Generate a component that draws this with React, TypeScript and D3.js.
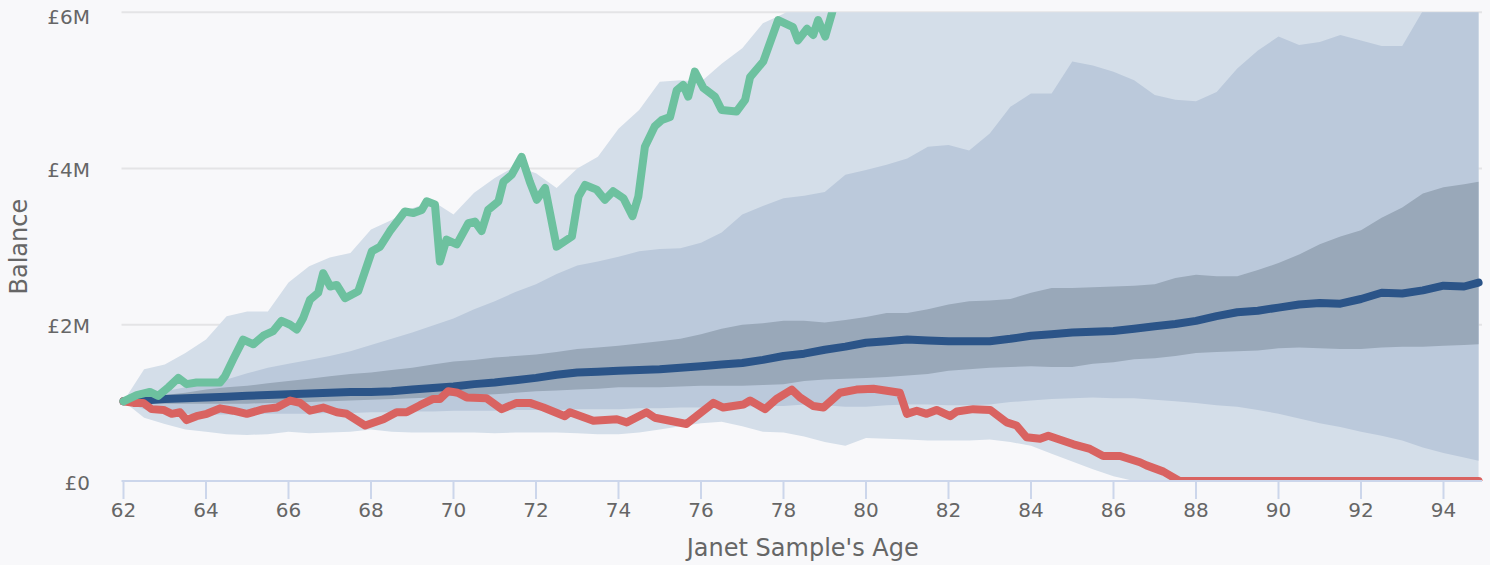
import { useEffect, useRef } from "react";
import * as d3 from "d3";

// ages for the percentile bands (years)
const ages = [
  62, 62.5, 63, 63.5, 64, 64.5, 65, 65.5, 66, 66.5, 67, 67.5, 68, 68.5, 69, 69.5,
  70, 70.5, 71, 71.5, 72, 72.5, 73, 73.5, 74, 74.5, 75, 75.5, 76, 76.5, 77, 77.5,
  78, 78.5, 79, 79.5, 80, 80.5, 81, 81.5, 82, 82.5, 83, 83.5, 84, 84.5, 85, 85.5,
  86, 86.5, 87, 87.5, 88, 88.5, 89, 89.5, 90, 90.5, 91, 91.5, 92, 92.5, 93, 93.5,
  94, 94.5, 94.85,
];

// balances in £M
const outerHigh = [
  1.02, 1.43, 1.49, 1.64, 1.81, 2.11, 2.17, 2.17, 2.54, 2.75, 2.86, 2.92, 3.22, 3.34, 3.49, 3.58,
  3.41, 3.69, 3.88, 4.03, 3.94, 3.75, 4.0, 4.15, 4.51, 4.75, 5.11, 5.13, 5.11, 5.34, 5.54, 5.86,
  5.98, 6.15, 6.3, 6.45, 6.6, 6.75, 6.9, 7.0, 7.1, 7.2, 7.35, 7.5, 7.7, 7.9, 8.1, 8.2,
  8.3, 8.4, 8.5, 8.6, 8.7, 8.8, 9.0, 9.2, 9.4, 9.5, 9.6, 9.7, 9.8, 9.9, 10.0, 10.2,
  10.4, 10.5, 10.6,
];
const outerLow = [
  1.02, 0.81, 0.73, 0.66, 0.63, 0.6, 0.59, 0.6, 0.63, 0.61, 0.62, 0.63, 0.66, 0.63, 0.62, 0.62,
  0.62, 0.62, 0.61, 0.62, 0.62, 0.62, 0.61, 0.6, 0.6, 0.62, 0.66, 0.7, 0.74, 0.76, 0.7, 0.63,
  0.62, 0.57, 0.5, 0.45, 0.55, 0.54, 0.53, 0.52, 0.52, 0.52, 0.53, 0.5, 0.45, 0.35, 0.25, 0.15,
  0.06, 0, 0, 0, 0, 0, 0, 0, 0, 0, 0, 0, 0, 0, 0, 0,
  0, 0, 0,
];
const middleHigh = [
  1.02, 1.11, 1.15, 1.2, 1.24, 1.3, 1.38, 1.45, 1.5, 1.55, 1.6, 1.66, 1.74, 1.82, 1.9, 1.99,
  2.08, 2.2, 2.3, 2.42, 2.52, 2.65, 2.76, 2.81, 2.87, 2.94, 2.97, 2.98, 3.05, 3.18, 3.41, 3.52,
  3.62, 3.65, 3.7, 3.92, 3.98, 4.05, 4.13, 4.28, 4.3, 4.23, 4.45, 4.79, 4.96, 4.96, 5.37, 5.32,
  5.24, 5.13, 4.94, 4.88, 4.86, 4.98, 5.28, 5.51, 5.69, 5.58, 5.62, 5.71, 5.64, 5.57, 5.57, 6.02,
  6.3, 6.5, 6.6,
];
const middleLow = [
  1.02, 0.92, 0.88, 0.86, 0.85, 0.85, 0.85, 0.86, 0.86, 0.86, 0.87, 0.87, 0.88, 0.88, 0.89, 0.89,
  0.9, 0.9, 0.9, 0.91, 0.91, 0.91, 0.92, 0.92, 0.92, 0.93, 0.93, 0.94, 0.94, 0.95, 0.95, 0.96,
  0.96, 0.98, 0.97, 0.95, 0.95, 0.97, 0.98, 0.98, 0.97, 0.97, 0.98, 1.01, 1.03, 1.05, 1.06, 1.07,
  1.06, 1.06, 1.04, 1.02, 1.0, 0.97, 0.95, 0.91, 0.86, 0.8, 0.74, 0.69, 0.63, 0.58, 0.52, 0.43,
  0.36, 0.3, 0.26,
];
const innerHigh = [
  1.02, 1.06, 1.1, 1.13, 1.17, 1.2, 1.22, 1.25, 1.28, 1.31, 1.34, 1.37, 1.39, 1.42, 1.45, 1.49,
  1.53, 1.55, 1.58, 1.6, 1.62, 1.65, 1.69, 1.71, 1.73, 1.76, 1.79, 1.82, 1.88, 1.95, 2.0, 2.02,
  2.05, 2.05, 2.03, 2.06, 2.1, 2.15, 2.15, 2.2, 2.26, 2.3, 2.31, 2.33, 2.41, 2.47, 2.47, 2.48,
  2.49, 2.5, 2.52, 2.6, 2.64, 2.62, 2.62, 2.7, 2.79, 2.9, 3.03, 3.13, 3.21, 3.37, 3.5, 3.68,
  3.76, 3.8, 3.83,
];
const innerLow = [
  1.02, 1.0, 0.99, 0.99, 0.99, 0.99, 0.99, 1.0, 1.0, 1.01, 1.02, 1.03, 1.04, 1.05, 1.06, 1.07,
  1.09, 1.1, 1.11, 1.13, 1.15, 1.16, 1.17, 1.18, 1.2, 1.2, 1.2, 1.21, 1.22, 1.22, 1.22, 1.23,
  1.24, 1.28, 1.3, 1.31, 1.32, 1.33, 1.35, 1.37, 1.41, 1.43, 1.45, 1.46, 1.47, 1.46, 1.46, 1.5,
  1.52, 1.56, 1.57, 1.6, 1.64, 1.65, 1.66, 1.67, 1.7, 1.71, 1.7, 1.69, 1.69, 1.71, 1.72, 1.72,
  1.73, 1.74, 1.75,
];
const median = [
  1.02, 1.03, 1.05, 1.06, 1.07, 1.08, 1.09, 1.1, 1.11, 1.12, 1.13, 1.14, 1.14, 1.15, 1.17, 1.19,
  1.21, 1.24, 1.26, 1.29, 1.32, 1.36, 1.39, 1.4, 1.41, 1.42, 1.43, 1.45, 1.47, 1.49, 1.51, 1.55,
  1.6, 1.63, 1.68, 1.72, 1.77, 1.79, 1.81, 1.8, 1.79, 1.79, 1.79, 1.82, 1.86, 1.88, 1.9, 1.91,
  1.92, 1.95, 1.98, 2.01, 2.05, 2.11, 2.16, 2.18, 2.22, 2.26, 2.28, 2.27, 2.33, 2.41, 2.4, 2.44,
  2.5, 2.49, 2.54,
];

// good-markets scenario
const goodAges = [
  62, 62.32, 62.64, 62.84, 63.09, 63.33, 63.53, 63.77, 64.02, 64.34, 64.46, 64.66, 64.9, 65.15,
  65.39, 65.63, 65.83, 66.04, 66.2, 66.36, 66.52, 66.72, 66.84, 67.01, 67.17, 67.37, 67.69,
  68.02, 68.22, 68.46, 68.82, 69.03, 69.23, 69.35, 69.55, 69.67, 69.83, 70.08, 70.36, 70.52,
  70.68, 70.84, 71.09, 71.21, 71.41, 71.65, 71.85, 72.02, 72.22, 72.34, 72.5, 72.87, 73.03,
  73.19, 73.47, 73.67, 73.87, 74.12, 74.34, 74.48, 74.64, 74.88, 75.05, 75.25, 75.41, 75.57,
  75.69, 75.85, 76.06, 76.34, 76.5, 76.86, 77.07, 77.19, 77.51, 77.87, 78.23, 78.35, 78.57,
  78.72, 78.84, 79.01, 79.18, 79.37,
];
const goodValues = [
  1.02, 1.1, 1.14, 1.09, 1.2, 1.32, 1.24, 1.26, 1.26, 1.26, 1.34, 1.56, 1.81, 1.75,
  1.86, 1.92, 2.05, 2.0, 1.94, 2.09, 2.32, 2.41, 2.66, 2.49, 2.51, 2.34, 2.43,
  2.94, 3.0, 3.2, 3.45, 3.43, 3.47, 3.58, 3.54, 2.81, 3.09, 3.03, 3.3, 3.32,
  3.2, 3.47, 3.58, 3.83, 3.92, 4.15, 3.83, 3.6, 3.75, 3.43, 3.0, 3.13, 3.64,
  3.79, 3.73, 3.6, 3.71, 3.62, 3.39, 3.64, 4.28, 4.54, 4.62, 4.66, 5.0, 5.07,
  4.92, 5.24, 5.03, 4.92, 4.75, 4.73, 4.88, 5.17, 5.37, 5.9, 5.81, 5.64, 5.79,
  5.71, 5.9, 5.69, 6.0, 6.4,
];

// poor-markets scenario
const poorAges = [
  62, 62.24, 62.48, 62.68, 62.97, 63.17, 63.37, 63.53, 63.77, 64.02, 64.34, 64.66, 64.99,
  65.39, 65.72, 66.04, 66.28, 66.52, 66.84, 67.17, 67.41, 67.86, 68.3, 68.62, 68.86, 69.19,
  69.51, 69.67, 69.87, 70.1, 70.32, 70.8, 71.17, 71.53, 71.85, 72.18, 72.7, 72.82, 73.39,
  73.96, 74.2, 74.68, 74.88, 75.65, 76.3, 76.54, 77.03, 77.19, 77.55, 77.83, 78.2, 78.4,
  78.72, 78.97, 79.37, 79.77, 80.18, 80.58, 80.82, 80.99, 81.23, 81.47, 81.71, 82.04, 82.2,
  82.6, 83.01, 83.41, 83.65, 83.89, 84.22, 84.42, 85.03, 85.43, 85.75, 86.16, 86.64, 86.8,
  87.21, 87.6, 94.85,
];
const poorValues = [
  1.02, 1.0, 1.0, 0.92, 0.91, 0.86, 0.88, 0.78, 0.83, 0.86, 0.93, 0.9, 0.86,
  0.92, 0.94, 1.03, 1.0, 0.9, 0.94, 0.88, 0.86, 0.71, 0.79, 0.88, 0.88, 0.97,
  1.05, 1.05, 1.15, 1.13, 1.07, 1.06, 0.92, 1.0, 1.0, 0.94, 0.83, 0.88, 0.77,
  0.79, 0.75, 0.88, 0.81, 0.73, 1.0, 0.94, 0.98, 1.03, 0.92, 1.05, 1.17, 1.07,
  0.96, 0.94, 1.13, 1.17, 1.18, 1.15, 1.13, 0.86, 0.9, 0.86, 0.91, 0.83, 0.89,
  0.92, 0.91, 0.75, 0.71, 0.56, 0.54, 0.58, 0.47, 0.41, 0.32, 0.32, 0.24, 0.2,
  0.12, 0, 0,
];

const xTicks = [62, 64, 66, 68, 70, 72, 74, 76, 78, 80, 82, 84, 86, 88, 90, 92, 94];
const yTicks = [0, 2, 4, 6];

const W = 1490;
const H = 565;
const FONT = "'DejaVu Sans', Verdana, sans-serif";

export default function App() {
  const svgRef = useRef<SVGSVGElement | null>(null);

  useEffect(() => {
    if (!svgRef.current) return;
    const svg = d3.select(svgRef.current);
    svg.selectAll("*").remove();

    const x = d3.scaleLinear().domain([62, 94]).range([123.5, 1443.5]);
    const y = d3.scaleLinear().domain([0, 6]).range([481, 12.3]);
    const plotRight = 1482;

    svg.append("rect").attr("width", W).attr("height", H).attr("fill", "#f8f8fa");

    svg
      .append("defs")
      .append("clipPath")
      .attr("id", "plot-clip")
      .append("rect")
      .attr("x", 0)
      .attr("y", y(6))
      .attr("width", W)
      .attr("height", y(0) - y(6));

    // grid
    svg
      .append("g")
      .selectAll("line")
      .data(yTicks.filter((t) => t > 0))
      .enter()
      .append("line")
      .attr("x1", x(62) - 2)
      .attr("x2", plotRight)
      .attr("y1", (d) => y(d))
      .attr("y2", (d) => y(d))
      .attr("stroke", "#e4e4e6")
      .attr("stroke-width", 2);

    const plot = svg.append("g").attr("clip-path", "url(#plot-clip)");

    const band = (hi: number[], lo: number[], fill: string) => {
      const area = d3
        .area<number>()
        .x((d) => x(ages[d]))
        .y0((d) => y(lo[d]))
        .y1((d) => y(hi[d]));
      plot.append("path").attr("d", area(d3.range(ages.length))).attr("fill", fill);
    };
    band(outerHigh, outerLow, "#d4dee9");
    band(middleHigh, middleLow, "#bbc9db");
    band(innerHigh, innerLow, "#99a8b9");

    const drawLine = (xs: number[], ys: number[], color: string) => {
      const line = d3
        .line<number>()
        .x((i) => x(xs[i]))
        .y((i) => y(ys[i]));
      plot
        .append("path")
        .attr("d", line(d3.range(xs.length)))
        .attr("fill", "none")
        .attr("stroke", color)
        .attr("stroke-width", 8)
        .attr("stroke-linejoin", "round")
        .attr("stroke-linecap", "round");
    };
    drawLine(ages, median, "#2b5488");
    drawLine(poorAges, poorValues, "#d96361");
    drawLine(goodAges, goodValues, "#6dc19f");

    // x axis
    const xa = svg.append("g");
    xa.append("line")
      .attr("x1", x(62) - 2)
      .attr("x2", plotRight)
      .attr("y1", y(0))
      .attr("y2", y(0))
      .attr("stroke", "#ccd6eb")
      .attr("stroke-width", 2);
    const xt = xa.selectAll("g.tick").data(xTicks).enter().append("g").attr("class", "tick");
    xt.append("line")
      .attr("x1", (d) => x(d))
      .attr("x2", (d) => x(d))
      .attr("y1", y(0))
      .attr("y2", y(0) + 18)
      .attr("stroke", "#ccd6eb")
      .attr("stroke-width", 2);
    xt.append("text")
      .attr("x", (d) => x(d))
      .attr("y", 517)
      .attr("text-anchor", "middle")
      .attr("font-family", FONT)
      .attr("font-size", 20)
      .attr("fill", "#666666")
      .text((d) => String(d));

    // y labels
    svg
      .append("g")
      .selectAll("text")
      .data(yTicks)
      .enter()
      .append("text")
      .attr("x", 90)
      .attr("y", (d) => Math.max(y(d) + 8.5, 24))
      .attr("text-anchor", "end")
      .attr("font-family", FONT)
      .attr("font-size", 20)
      .attr("fill", "#666666")
      .text((d) => (d === 0 ? "£0" : `£${d}M`));

    // titles
    svg
      .append("text")
      .attr("x", (x(62) + plotRight) / 2)
      .attr("y", 556)
      .attr("text-anchor", "middle")
      .attr("font-family", FONT)
      .attr("font-size", 24)
      .attr("fill", "#666666")
      .text("Janet Sample's Age");

    svg
      .append("text")
      .attr("transform", `translate(27, ${(y(0) + y(6)) / 2}) rotate(-90)`)
      .attr("text-anchor", "middle")
      .attr("font-family", FONT)
      .attr("font-size", 24)
      .attr("fill", "#666666")
      .text("Balance");
  }, []);

  return (
    <div style={{ position: "absolute", left: 0, top: 0 }}>
      <svg ref={svgRef} width={W} height={H}></svg>
    </div>
  );
}
